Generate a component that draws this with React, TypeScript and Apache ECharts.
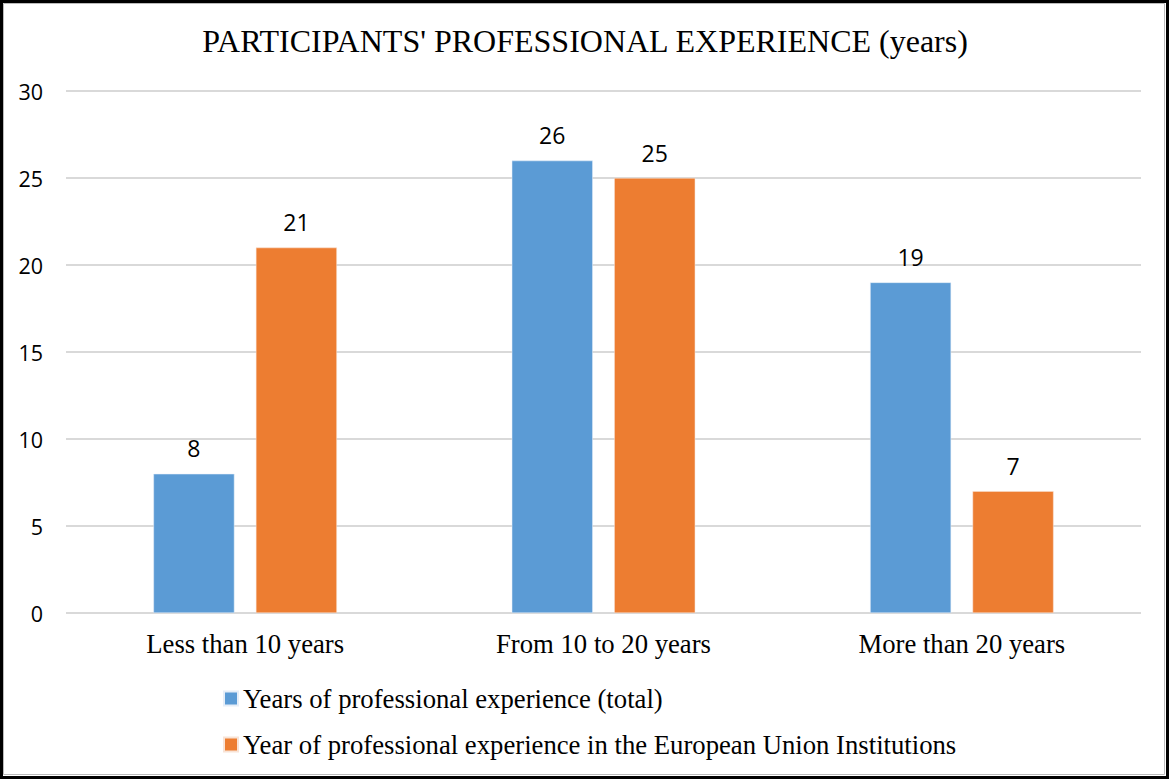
import React, { useEffect, useRef } from "react";
import * as echarts from "echarts";

const categories = ["Less than 10 years", "From 10 to 20 years", "More than 20 years"];
const seriesNames = [
  "Years of professional experience (total)",
  "Year of professional experience in the European Union Institutions",
];
const totalValues = [8, 26, 19];
const euValues = [21, 25, 7];
const yTicks = { min: 0, max: 30, interval: 5 };
const titleText = "PARTICIPANTS' PROFESSIONAL EXPERIENCE (years)";

export default function App() {
  const ref = useRef<HTMLDivElement>(null);
  useEffect(() => {
    if (!ref.current) return;
    const chart = echarts.init(ref.current, undefined, { renderer: "svg" });
    const labelStyle = {
      show: true,
      position: "top" as const,
      distance: 14,
      fontFamily: "Open Sans",
      fontSize: 23,
      color: "#000",
    };
    chart.setOption({
      animation: false,
      backgroundColor: "#fff",
      title: {
        text: titleText,
        left: "center",
        top: 25,
        padding: 0,
        textStyle: {
          fontFamily: "Liberation Serif",
          fontSize: 32,
          fontWeight: "normal",
          color: "#000",
        },
      },
      legend: {
        orient: "vertical",
        left: 223,
        top: 685,
        padding: 0,
        itemWidth: 14,
        itemHeight: 14,
        itemGap: 19,
        icon: "rect",
        textStyle: {
          fontFamily: "Liberation Serif",
          fontSize: 26.7,
          color: "#000",
        },
        data: seriesNames,
      },
      grid: { left: 66, right: 29, top: 91, bottom: 167, containLabel: false },
      xAxis: {
        type: "category",
        data: categories,
        axisLine: { show: false },
        axisTick: { show: false },
        axisLabel: {
          margin: 17,
          fontFamily: "Liberation Serif",
          fontSize: 26.7,
          color: "#000",
        },
      },
      yAxis: {
        type: "value",
        min: yTicks.min,
        max: yTicks.max,
        interval: yTicks.interval,
        axisLine: { show: false },
        axisTick: { show: false },
        axisLabel: {
          margin: 23,
          fontFamily: "Open Sans",
          fontSize: 21.5,
          color: "#000",
        },
        splitLine: { lineStyle: { color: "#d9d9d9", width: 2 } },
      },
      series: [
        {
          name: seriesNames[0],
          type: "bar",
          data: totalValues,
          barWidth: 81,
          barGap: "26.5%",
          itemStyle: { color: "#5b9bd5", borderColor: "#e6eef8", borderWidth: 0.5 },
          label: labelStyle,
        },
        {
          name: seriesNames[1],
          type: "bar",
          data: euValues,
          barWidth: 81,
          barGap: "26.5%",
          itemStyle: { color: "#ed7d31", borderColor: "#f8e3d6", borderWidth: 0.5 },
          label: labelStyle,
        },
      ],
      graphic: [
        {
          type: "rect",
          shape: { x: 1.5, y: 1.5, width: 1166, height: 776 },
          style: { fill: "none", stroke: "#000", lineWidth: 3 },
          silent: true,
        },
        {
          type: "rect",
          shape: { x: 3.5, y: 3.5, width: 1161, height: 771 },
          style: { fill: "none", stroke: "#bbb", lineWidth: 1 },
          silent: true,
        },
      ],
    });
    return () => chart.dispose();
  }, []);
  return (
    <div
      ref={ref}
      style={{ position: "fixed", left: 0, top: 0, width: 1170, height: 780, background: "#fff" }}
    />
  );
}
